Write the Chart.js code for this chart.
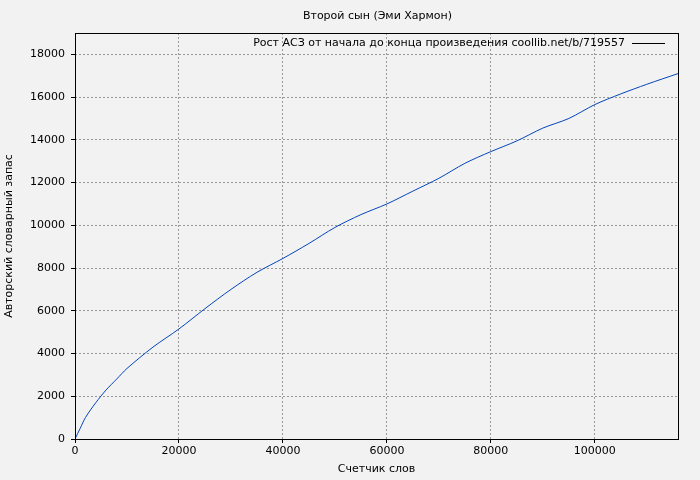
<!DOCTYPE html>
<html>
<head>
<meta charset="utf-8">
<script src="https://cdn.jsdelivr.net/npm/chart.js@4"></script>
<style>
  body { margin: 0; background: #f2f2f2; }
  #wrap { width: 700px; height: 480px; }
</style>
</head>
<body>
<div id="wrap"><canvas id="c"></canvas></div>
<script>
// ---------- Data ----------
const words = [0, 1000, 2000, 4000, 6000, 8000, 10000, 15000, 20000, 25000, 30000, 35000, 40000, 45000, 50000,
  55000, 60000, 65000, 70000, 75000, 80000, 85000, 90000, 95000, 100000, 105000, 110000, 116000];
const vocab = [0, 500, 1000, 1700, 2300, 2800, 3300, 4300, 5150, 6100, 7000, 7800, 8450, 9150, 9900,
  10500, 11000, 11600, 12200, 12900, 13450, 13950, 14550, 15000, 15650, 16150, 16600, 17100];
const xTicks = [0, 20000, 40000, 60000, 80000, 100000];
const yTicks = [0, 2000, 4000, 6000, 8000, 10000, 12000, 14000, 16000, 18000];
const titleText = "Второй сын (Эми Хармон)";
const legendText = "Рост АСЗ от начала до конца произведения coollib.net/b/719557";
const xTitle = "Счетчик слов";
const yTitle = "Авторский словарный запас";

const FONT = "DejaVu Sans, sans-serif";

// ---------- Gnuplot-style extras ----------
const extras = {
  id: "extras",
  afterDraw(chart) {
    const ctx = chart.ctx, a = chart.chartArea;
    ctx.save();
    ctx.strokeStyle = "#000";
    ctx.lineWidth = 1;
    ctx.strokeRect(a.left + 0.5, a.top + 0.5, a.right - a.left, a.bottom - a.top);
    ctx.fillStyle = "#000";
    ctx.font = "11px " + FONT;
    ctx.textAlign = "center";
    ctx.textBaseline = "middle";
    ctx.fillText(titleText, (a.left + a.right) / 2 + 1, 16);
    ctx.fillText(xTitle, (a.left + a.right) / 2, 469);
    ctx.save();
    ctx.translate(9, (a.top + a.bottom) / 2);
    ctx.rotate(-Math.PI / 2);
    ctx.fillText(yTitle, 0, 0);
    ctx.restore();
    // legend
    ctx.textAlign = "right";
    ctx.fillText(legendText, 625, 43);
    ctx.strokeStyle = "#000";
    ctx.beginPath();
    ctx.moveTo(632, 43.5);
    ctx.lineTo(665, 43.5);
    ctx.stroke();
    ctx.restore();
  }
};

const tickFont = { size: 11, family: FONT };

new Chart(document.getElementById("c"), {
  type: "scatter",
  data: {
    datasets: [{
      data: words.map((w, i) => ({ x: w, y: vocab[i] })),
      showLine: true,
      borderColor: "#0044bb",
      borderWidth: 1,
      pointRadius: 0,
      tension: 0.3
    }]
  },
  options: {
    responsive: true,
    maintainAspectRatio: false,
    animation: false,
    layout: { padding: { top: 33, right: 22, left: 0, bottom: 0 } },
    plugins: { legend: { display: false }, tooltip: { enabled: false } },
    scales: {
      x: {
        type: "linear", min: 0, max: 116000,
        afterBuildTicks: (s) => { s.ticks = xTicks.map((v) => ({ value: v })); },
        afterFit: (s) => { s.height = 41; },
        ticks: { autoSkip: false, maxRotation: 0, color: "#000", font: tickFont, padding: 2,
          callback: (v) => String(v) },
        grid: { color: "#999", drawTicks: true, tickLength: 4, tickColor: "#000" },
        border: { display: false, dash: [2, 2] }
      },
      y: {
        type: "linear", min: 0, max: 19000,
        afterBuildTicks: (s) => { s.ticks = yTicks.map((v) => ({ value: v })); },
        afterFit: (s) => { s.width = 75; },
        ticks: { autoSkip: false, color: "#000", font: tickFont, padding: 6,
          callback: (v) => String(v) },
        grid: { color: "#999", drawTicks: true, tickLength: 4, tickColor: "#000" },
        border: { display: false, dash: [2, 2] }
      }
    }
  },
  plugins: [extras]
});
</script>
</body>
</html>
